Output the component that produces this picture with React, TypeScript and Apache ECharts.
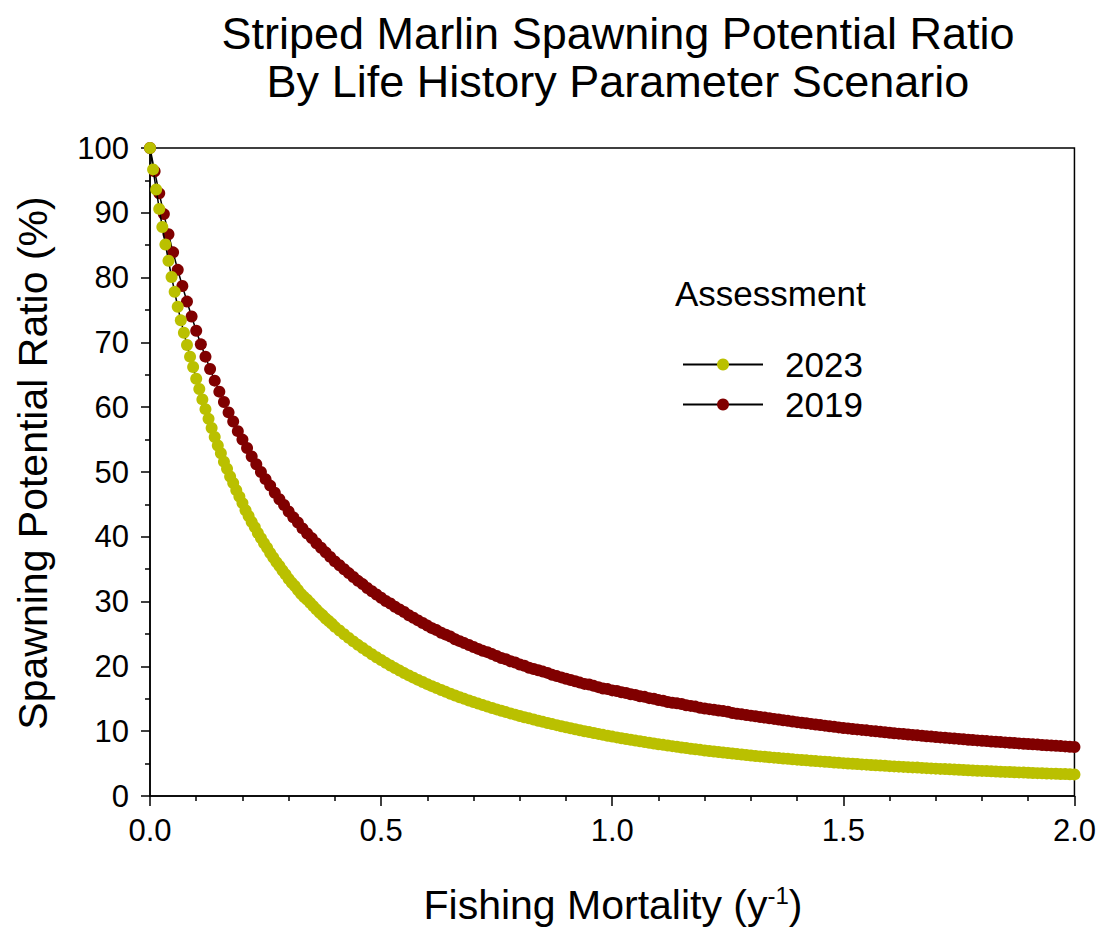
import React, { useEffect, useRef } from "react";
import * as echarts from "echarts";

const FONT = "'Liberation Sans', Arial, Helvetica, sans-serif";

const TITLE_LINE_1 = "Striped Marlin Spawning Potential Ratio";
const TITLE_LINE_2 = "By Life History Parameter Scenario";
const Y_AXIS_NAME = "Spawning Potential Ratio (%)";
const X_AXIS_NAME_MAIN = "Fishing Mortality (y";
const X_AXIS_NAME_SUP = "-1";
const LEGEND_TITLE = "Assessment";
const SERIES_NAMES = ["2023", "2019"];

// 2019 assessment: F = 0.00 .. 2.00 in steps of 0.01
const F_STEP_2019 = 0.01;
const SPR_2019 = [
  100, 96.4, 93.0, 89.8, 86.7, 83.9, 81.2, 78.7, 76.3, 74.0,
  71.8, 69.7, 67.8, 65.9, 64.1, 62.4, 60.8, 59.2, 57.8, 56.3,
  55.0, 53.7, 52.4, 51.2, 50.0, 48.9, 47.9, 46.8, 45.8, 44.9,
  43.9,
  43.0, 42.2, 41.3, 40.5, 39.8,
  39.0, 38.3, 37.6, 36.9, 36.2,
  35.6, 35.0, 34.4, 33.8, 33.2,
  32.7, 32.1, 31.6, 31.1, 30.6,
  30.1, 29.7, 29.2, 28.8, 28.4, 27.9, 27.5, 27.1, 26.7, 26.3,
  25.9, 25.6, 25.2, 24.9, 24.6, 24.2, 23.9, 23.6, 23.3, 23.0,
  22.7, 22.4, 22.2, 21.9, 21.6, 21.3, 21.1, 20.8, 20.6, 20.3,
  20.1, 19.8, 19.6, 19.4, 19.2, 19.0, 18.7, 18.5, 18.3, 18.1,
  17.9, 17.7, 17.5, 17.3, 17.2, 17.0, 16.8, 16.6, 16.5, 16.3,
  16.2, 16.0, 15.9, 15.7, 15.6, 15.4, 15.3, 15.1, 15.0, 14.8,
  14.7, 14.5, 14.4, 14.3, 14.2, 14.0, 13.9, 13.8, 13.6, 13.5,
  13.4, 13.3, 13.2, 13.1, 13.0, 12.8, 12.7, 12.6, 12.5, 12.4,
  12.3, 12.2, 12.1, 12.0, 11.9, 11.8, 11.7, 11.6, 11.5, 11.4,
  11.31, 11.22, 11.13, 11.04, 10.95, 10.86, 10.77, 10.68, 10.59, 10.5,
  10.43, 10.35, 10.28, 10.2, 10.13, 10.05, 9.98, 9.9, 9.83, 9.75,
  9.69, 9.62, 9.56, 9.49, 9.43, 9.36, 9.3, 9.23, 9.17, 9.1,
  9.04, 8.98, 8.93, 8.87, 8.81, 8.75, 8.69, 8.64, 8.58, 8.52,
  8.47, 8.42, 8.37, 8.32, 8.27, 8.22, 8.17, 8.12, 8.07, 8.02,
  7.97, 7.93, 7.88, 7.84, 7.79, 7.74, 7.7, 7.65, 7.61, 7.56,
];

// 2023 assessment: dense points F = 0 .. 0.40 (step 1/150), then 0.41 .. 2.00 (step 0.01)
const F_STEP_2023_EARLY = 1 / 150;
const SPR_2023_EARLY = [
  100, 96.7, 93.6, 90.6, 87.8, 85.1, 82.6, 80.1, 77.8, 75.5,
  73.4, 71.5, 69.6, 67.8, 66.2, 64.4, 62.8, 61.2, 59.7, 58.2,
  56.8, 55.4, 54.1, 52.9, 51.6, 50.5, 49.3, 48.3, 47.2, 46.2,
  45.2, 44.1, 43.2, 42.3, 41.5, 40.6, 39.8, 39.0, 38.3, 37.5,
  36.8, 36.1, 35.5, 34.8, 34.2, 33.5, 32.9, 32.4, 31.8, 31.2,
  30.7, 30.3, 29.8, 29.3, 28.8, 28.3, 27.9, 27.4, 27.0, 26.6,
  26.1,
];
const F_START_2023_LATE = 0.41;
const F_STEP_2023_LATE = 0.01;
const SPR_2023_LATE = [
  25.54, 24.96, 24.4, 23.86, 23.33,
  22.83, 22.35, 21.88, 21.42, 20.98,
  20.55, 20.14, 19.74, 19.35, 18.97,
  18.61, 18.26, 17.92, 17.59, 17.26,
  16.95, 16.65, 16.36, 16.07, 15.78,
  15.51, 15.25, 14.99, 14.74, 14.49,
  14.26, 14.03, 13.8, 13.58, 13.36,
  13.15, 12.95, 12.75, 12.55, 12.35,
  12.16, 11.98, 11.8, 11.62, 11.44, 11.27, 11.1, 10.93, 10.77, 10.6,
  10.45, 10.3, 10.15, 10.0, 9.86, 9.72, 9.58, 9.44, 9.3, 9.17,
  9.04, 8.92, 8.79, 8.67, 8.55, 8.44, 8.32, 8.21, 8.1, 7.99,
  7.89, 7.79, 7.69, 7.59, 7.49, 7.4, 7.3, 7.21, 7.12, 7.03,
  6.95, 6.86, 6.78, 6.7, 6.63, 6.55, 6.47, 6.4, 6.32, 6.25,
  6.18, 6.11, 6.05, 5.98, 5.92, 5.85, 5.79, 5.73, 5.67, 5.61,
  5.55, 5.5, 5.44, 5.39, 5.34, 5.28, 5.23, 5.18, 5.12, 5.07,
  5.02, 4.97, 4.93, 4.88, 4.84, 4.79, 4.75, 4.7, 4.66, 4.61,
  4.57, 4.53, 4.49, 4.45, 4.41, 4.38, 4.34, 4.3, 4.26, 4.22,
  4.18, 4.15, 4.11, 4.08, 4.04, 4.01, 3.97, 3.94, 3.9, 3.87,
  3.84, 3.81, 3.78, 3.75, 3.72, 3.7, 3.67, 3.64, 3.61, 3.58,
  3.55, 3.53, 3.5, 3.48, 3.45, 3.43, 3.4, 3.38, 3.35, 3.33,
];

const COLOR_2023 = "#BAC000";
const COLOR_2019 = "#800000";

export default function App() {
  const ref = useRef<HTMLDivElement>(null);

  useEffect(() => {
    if (!ref.current) return;
    const chart = echarts.init(ref.current, undefined, { renderer: "svg" });

    const data2019 = SPR_2019.map((v, i) => [+(i * F_STEP_2019).toFixed(4), v]);
    const data2023 = [
      ...SPR_2023_EARLY.map((v, i) => [i * F_STEP_2023_EARLY, v]),
      ...SPR_2023_LATE.map((v, i) => [+(F_START_2023_LATE + i * F_STEP_2023_LATE).toFixed(4), v]),
    ];

    const axisColor = "#000";

    chart.setOption({
      animation: false,
      backgroundColor: "#fff",
      grid: {
        left: 150,
        right: 24,
        top: 148,
        bottom: 137,
        show: true,
        borderColor: "#000",
        borderWidth: 1.5,
        backgroundColor: "transparent",
      },
      xAxis: {
        type: "value",
        min: 0,
        max: 2,
        interval: 0.5,
        axisLine: { show: true, onZero: false, lineStyle: { color: axisColor, width: 1.5 } },
        axisTick: { show: true, inside: false, length: 10, lineStyle: { color: axisColor, width: 1.5 } },
        minorTick: { show: true, splitNumber: 5, length: 5, lineStyle: { color: axisColor, width: 1.5 } },
        splitLine: { show: false },
        minorSplitLine: { show: false },
        axisLabel: {
          formatter: (v: number) => v.toFixed(1),
          fontSize: 31,
          color: "#000",
          fontFamily: FONT,
          margin: 19,
        },
      },
      yAxis: {
        type: "value",
        min: 0,
        max: 100,
        interval: 10,
        axisLine: { show: true, lineStyle: { color: axisColor, width: 1.5 } },
        axisTick: { show: true, inside: false, length: 9, lineStyle: { color: axisColor, width: 1.5 } },
        minorTick: { show: true, splitNumber: 2, length: 5, lineStyle: { color: axisColor, width: 1.5 } },
        splitLine: { show: false },
        minorSplitLine: { show: false },
        axisLabel: { fontSize: 31, color: "#000", fontFamily: FONT, margin: 21 },
      },
      legend: {
        data: SERIES_NAMES,
        orient: "vertical",
        left: 682,
        top: 347,
        padding: 0,
        itemWidth: 80,
        itemHeight: 15,
        itemGap: 5,
        selectedMode: false,
        textStyle: {
          fontSize: 35,
          fontFamily: FONT,
          color: "#000",
          lineHeight: 30,
          padding: [0, 0, 0, 17],
        },
      },
      graphic: [
        {
          type: "text",
          x: 618,
          y: 33,
          style: {
            text: TITLE_LINE_1,
            fontSize: 45,
            lineHeight: 46,
            fontFamily: FONT,
            fill: "#000",
            textAlign: "center",
            textVerticalAlign: "middle",
          },
        },
        {
          type: "text",
          x: 618,
          y: 81,
          style: {
            text: TITLE_LINE_2,
            fontSize: 45,
            lineHeight: 46,
            fontFamily: FONT,
            fill: "#000",
            textAlign: "center",
            textVerticalAlign: "middle",
          },
        },
        {
          type: "text",
          x: 33,
          y: 463,
          rotation: Math.PI / 2,
          style: {
            text: Y_AXIS_NAME,
            fontSize: 41,
            fontFamily: FONT,
            fill: "#000",
            textAlign: "center",
            textVerticalAlign: "middle",
          },
        },
        {
          type: "text",
          x: 613,
          y: 905,
          style: {
            text: "{a|" + X_AXIS_NAME_MAIN + "}{b|" + X_AXIS_NAME_SUP + "}{a|)}",
            fill: "#000",
            textAlign: "center",
            textVerticalAlign: "middle",
            rich: {
              a: { fontSize: 41, fontFamily: FONT, fill: "#000", lineHeight: 44 },
              b: { fontSize: 24, fontFamily: FONT, fill: "#000", verticalAlign: "top", lineHeight: 24 },
            },
          },
        },
        {
          type: "text",
          x: 675,
          y: 293,
          style: {
            text: LEGEND_TITLE,
            fontSize: 35,
            fontFamily: FONT,
            fill: "#000",
            textAlign: "left",
            textVerticalAlign: "middle",
          },
        },
      ],
      series: [
        {
          name: "2019",
          type: "line",
          data: data2019,
          symbol: "circle",
          symbolSize: 12,
          showAllSymbol: true,
          clip: false,
          lineStyle: { color: "#000", width: 1.5 },
          itemStyle: { color: COLOR_2019, borderWidth: 0 },
          emphasis: { disabled: true },
          z: 2,
        },
        {
          name: "2023",
          type: "line",
          data: data2023,
          symbol: "circle",
          symbolSize: 12,
          showAllSymbol: true,
          clip: false,
          lineStyle: { color: "#000", width: 1.5 },
          itemStyle: { color: COLOR_2023, borderWidth: 0 },
          emphasis: { disabled: true },
          z: 3,
        },
      ],
    });

    return () => {
      chart.dispose();
    };
  }, []);

  return (
    <div
      ref={ref}
      style={{ position: "absolute", left: 0, top: 0, width: 1099, height: 933 }}
    />
  );
}
